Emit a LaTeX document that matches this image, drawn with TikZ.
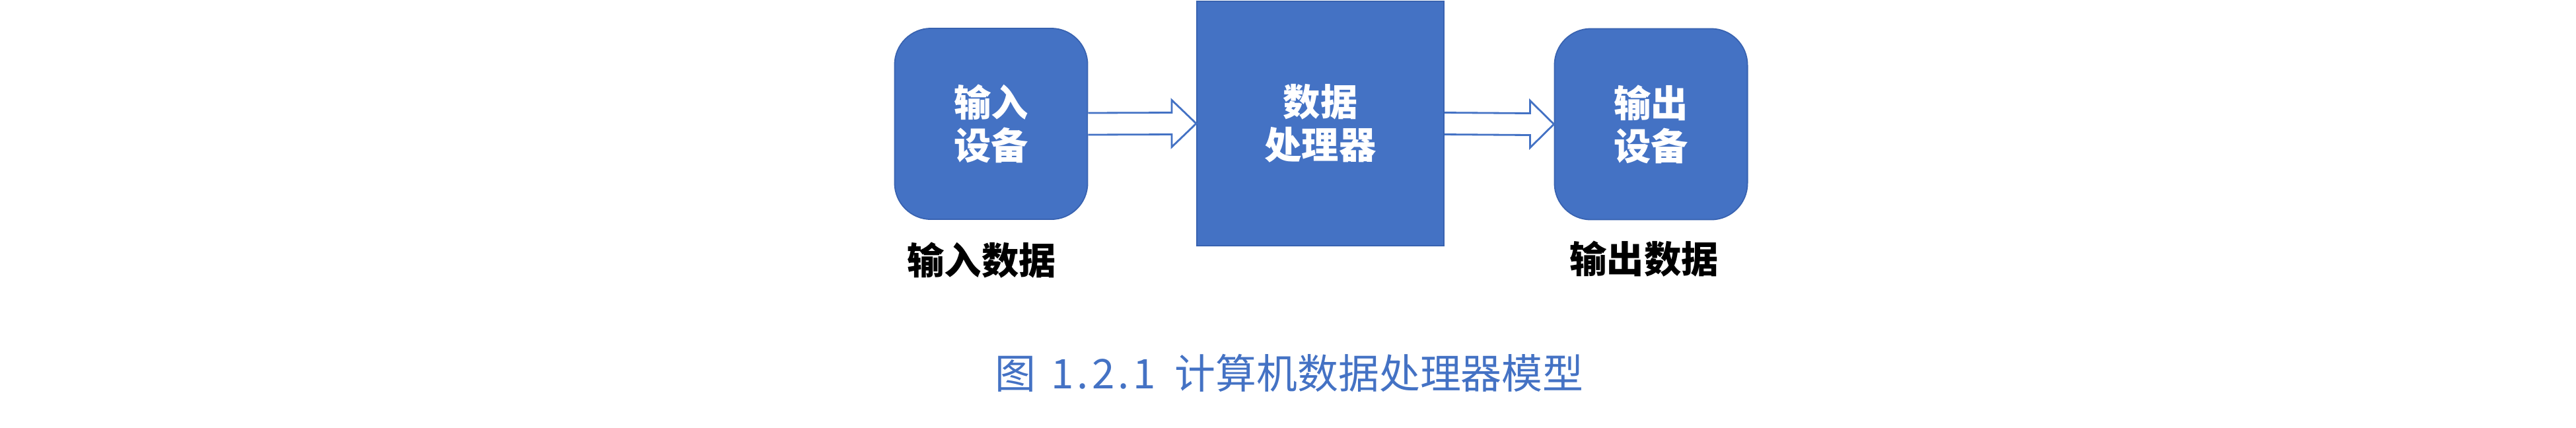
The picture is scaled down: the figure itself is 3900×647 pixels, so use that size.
\documentclass[tikz,border=0pt]{standalone}
\usepackage{fontspec}
\newfontfamily\cjk{Noto Sans CJK SC}
\usetikzlibrary{calc}
\definecolor{obox}{RGB}{68,114,196}
\definecolor{oline}{RGB}{56,98,176}
\begin{document}
\begin{tikzpicture}[x=0.01cm,y=-0.01cm,
  boxtext/.style={text=white, font=\cjk\bfseries\fontsize{16}{18.5}\selectfont, align=center, inner sep=0pt},
  dev/.style={boxtext, fill=obox, draw=oline, line width=0.5pt, rounded corners=0.55cm, minimum width=2.92cm, minimum height=2.89cm},
  proc/.style={boxtext, fill=obox, draw=oline, line width=0.5pt, minimum width=3.74cm, minimum height=3.70cm},
  lab/.style={text=black, font=\cjk\bfseries\fontsize{16}{18.5}\selectfont, inner sep=0pt},
  captext/.style={text=obox, font=\cjk\fontsize{17.6}{20}\selectfont, inner sep=0pt},
  barrow/.style={fill=white, draw=obox, line width=0.8pt, line join=miter}]
\useasboundingbox (0,0) rectangle (3900,647);
\node[dev] (in) at (1500.5,187.5) {输入\\设备};
\node[proc] (proc) at (1999,187) {数据\\处理器};
\node[dev] (out) at (2499.5,188) {输出\\设备};
\node[lab] (inl) at (1486,394) {输入数据};
\node[lab] (outl) at (2489,392) {输出数据};
\node[captext] (caption) at (1952,565) {图\hbox to 0.4em{}\makebox[0.5em]{1}\makebox[0.5em]{.}\makebox[0.5em]{2}\makebox[0.5em]{.}\makebox[0.5em]{1}\hbox to 0.5em{}计算机数据处理器模型};
\draw[barrow] ($(in.east)+(0,-16.5)$) -- ($(proc.west)+(-37,-16.5)$) -- ($(proc.west)+(-37,-35.5)$) -- (proc.west) -- ($(proc.west)+(-37,35.5)$) -- ($(proc.west)+(-37,16.5)$) -- ($(in.east)+(0,16.5)$);
\draw[barrow] ($(proc.east)+(0,-16.5)$) -- ($(out.west)+(-36,-16.5)$) -- ($(out.west)+(-36,-35.5)$) -- (out.west) -- ($(out.west)+(-36,35.5)$) -- ($(out.west)+(-36,16.5)$) -- ($(proc.east)+(0,16.5)$);
\end{tikzpicture}
\end{document}
